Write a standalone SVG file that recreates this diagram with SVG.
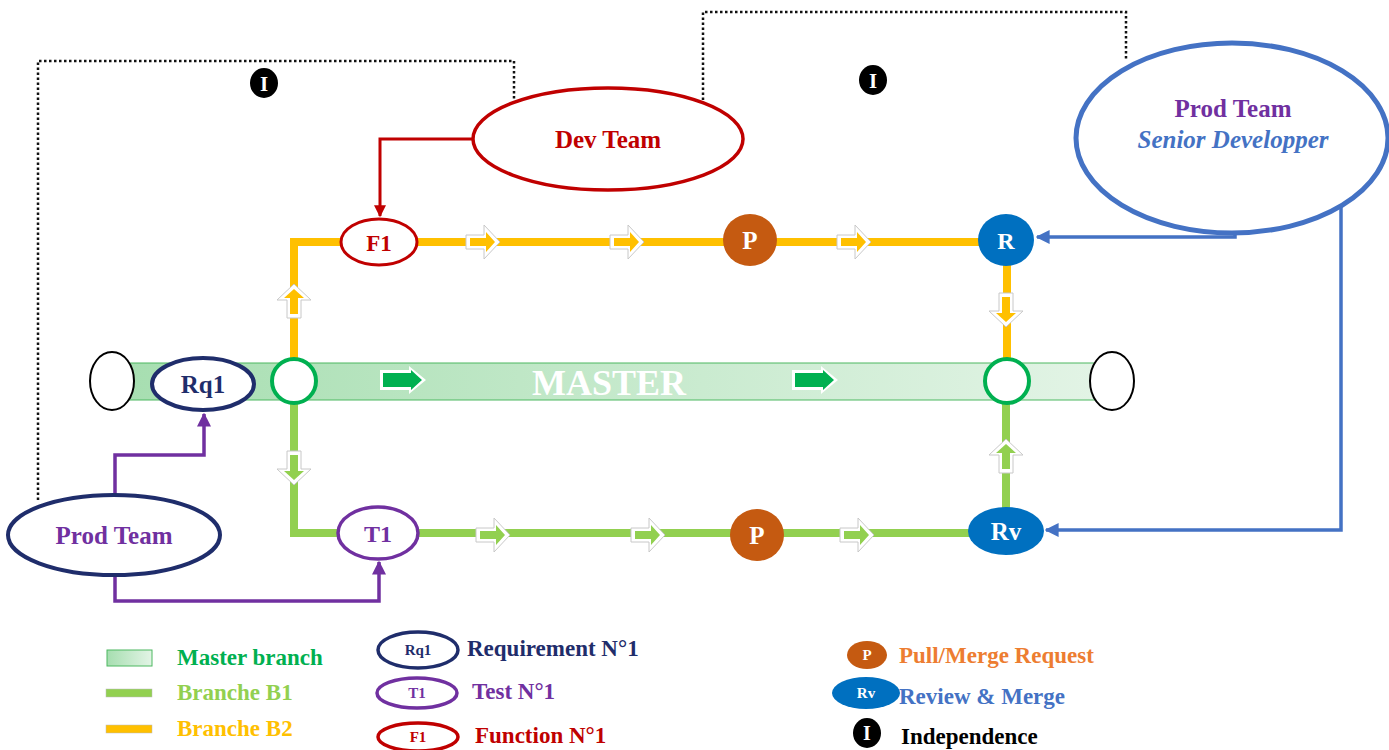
<svg xmlns="http://www.w3.org/2000/svg" width="1389" height="750" viewBox="0 0 1389 750">
<defs>
<style>
text{font-family:"Liberation Serif","Times New Roman",serif;font-weight:bold;}
.dot{fill:none;stroke:#111;stroke-width:2.5;stroke-dasharray:2.5 2.5;}
.b2{fill:none;stroke:#ffc000;stroke-width:8;}
.b1{fill:none;stroke:#92d050;stroke-width:8;}
.pur{fill:none;stroke:#7030a0;stroke-width:3.5;}
.blu{fill:none;stroke:#4472c4;stroke-width:3.5;}
.red{fill:none;stroke:#c00000;stroke-width:3;}
.lg{font-size:23px;}
.sm{font-size:15px;}
</style>
<linearGradient id="mg" x1="0" y1="0" x2="1" y2="0">
<stop offset="0" stop-color="#a6deb0"/>
<stop offset="1" stop-color="#e3f4e6"/>
</linearGradient>
<g id="ba">
<path d="M-17,-7 H1 V-17 L17,0 L1,17 V7 H-17 Z" fill="#fff" stroke="#c8c8c8" stroke-width="1"/>
<path d="M-13,-4 H3 V-10 L12,0 L3,10 V4 H-13 Z"/>
</g>
<g id="ma">
<path d="M-23,-10 H6 V-14 L23,0 L6,14 V10 H-23 Z" fill="#fff"/>
<path d="M-20,-7 H8 V-10 L19,0 L8,10 V7 H-20 Z" fill="#00b050"/>
</g>
<marker id="ap" viewBox="0 0 10 10" refX="9" refY="5" markerWidth="4" markerHeight="4" orient="auto-start-reverse"><path d="M0,0 L10,5 L0,10 Z" fill="#7030a0"/></marker>
<marker id="ab" viewBox="0 0 10 10" refX="9" refY="5" markerWidth="4" markerHeight="4" orient="auto-start-reverse"><path d="M0,0 L10,5 L0,10 Z" fill="#4472c4"/></marker>
<marker id="ar" viewBox="0 0 10 10" refX="9" refY="5" markerWidth="4" markerHeight="4" orient="auto-start-reverse"><path d="M0,0 L10,5 L0,10 Z" fill="#c00000"/></marker>
</defs>
<rect width="1389" height="750" fill="#fff"/>

<g id="connectors">
<path class="dot" d="M38,500 V61 H514 V100"/>
<path class="dot" d="M703,100 V12 H1126 V60"/>
<path class="b2" d="M294,358 V242 H1007 V358"/>
<path class="b1" d="M294,404 V533 H1006 V404"/>
<path class="red" d="M474,139 H380 V216" marker-end="url(#ar)"/>
<path class="blu" d="M1235,208 V237 H1037" marker-end="url(#ab)"/>
<path class="blu" d="M1341,180 V530 H1046" marker-end="url(#ab)"/>
<path class="pur" d="M115,495 V455 H204 V414" marker-end="url(#ap)"/>
<path class="pur" d="M115,575 V601 H379 V562" marker-end="url(#ap)"/>
<use href="#ba" x="483" y="242" fill="#ffc000"/>
<use href="#ba" x="627" y="242" fill="#ffc000"/>
<use href="#ba" x="854" y="242" fill="#ffc000"/>
<use href="#ba" transform="translate(294,301) rotate(-90)" fill="#ffc000"/>
<use href="#ba" transform="translate(1006,310) rotate(90)" fill="#ffc000"/>
<use href="#ba" x="493" y="535" fill="#92d050"/>
<use href="#ba" x="648" y="535" fill="#92d050"/>
<use href="#ba" x="857" y="535" fill="#92d050"/>
<use href="#ba" transform="translate(294,468) rotate(90)" fill="#92d050"/>
<use href="#ba" transform="translate(1006,456) rotate(-90)" fill="#92d050"/>
</g>

<g id="master">
<rect x="112" y="363" width="998" height="37" fill="url(#mg)" stroke="#4cb860" stroke-width="1"/>
<use href="#ma" x="403" y="380"/>
<use href="#ma" x="815" y="380"/>
<text x="609" y="395" font-size="36" fill="#fff" text-anchor="middle">MASTER</text>
</g>
<g id="end-left"><ellipse cx="112" cy="381" rx="22" ry="29" fill="#fff" stroke="#000" stroke-width="2"/></g>
<g id="end-right"><ellipse cx="1112" cy="381" rx="22" ry="29" fill="#fff" stroke="#000" stroke-width="2"/></g>
<g id="rq1"><ellipse cx="203" cy="384" rx="51" ry="26" fill="#fff" stroke="#1f2d6b" stroke-width="4"/><text x="203" y="393" font-size="25" fill="#1f2d6b" text-anchor="middle">Rq1</text></g>
<g id="split"><circle cx="294" cy="381" r="22" fill="#fff" stroke="#00b050" stroke-width="4"/></g>
<g id="merge"><circle cx="1007" cy="381" r="22" fill="#fff" stroke="#00b050" stroke-width="4"/></g>

<g id="f1"><ellipse cx="379" cy="242" rx="38" ry="23" fill="#fff" stroke="#c00000" stroke-width="3"/><text x="379" y="251" font-size="23" fill="#c00000" text-anchor="middle">F1</text></g>
<g id="t1"><ellipse cx="378" cy="533" rx="40" ry="26" fill="#fff" stroke="#7030a0" stroke-width="3.5"/><text x="378" y="542" font-size="24" fill="#7030a0" text-anchor="middle">T1</text></g>
<g id="p-top"><ellipse cx="750" cy="240" rx="27" ry="26" fill="#c55a11"/><text x="750" y="249" font-size="25" fill="#fff" text-anchor="middle">P</text></g>
<g id="p-bottom"><ellipse cx="757" cy="535" rx="27" ry="26" fill="#c55a11"/><text x="757" y="544" font-size="25" fill="#fff" text-anchor="middle">P</text></g>
<g id="r"><ellipse cx="1006" cy="240" rx="28" ry="26" fill="#0070c0"/><text x="1006" y="249" font-size="24" fill="#fff" text-anchor="middle">R</text></g>
<g id="rv"><ellipse cx="1006" cy="531" rx="38" ry="24" fill="#0070c0"/><text x="1006" y="540" font-size="25" fill="#fff" text-anchor="middle">Rv</text></g>

<g id="dev-team"><ellipse cx="608" cy="139" rx="135" ry="51" fill="#fff" stroke="#c00000" stroke-width="3.5"/><text x="608" y="148" font-size="25" fill="#c00000" text-anchor="middle">Dev Team</text></g>
<g id="prod-senior"><ellipse cx="1232" cy="138" rx="156" ry="95" fill="#fff" stroke="#4472c4" stroke-width="5"/><text x="1233" y="117" font-size="25" fill="#7030a0" text-anchor="middle">Prod Team</text><text x="1233" y="148" font-size="25" font-style="italic" fill="#4472c4" text-anchor="middle">Senior Developper</text></g>
<g id="prod-team"><ellipse cx="114" cy="535" rx="106" ry="40" fill="#fff" stroke="#1f2d6b" stroke-width="4"/><text x="114" y="544" font-size="25" fill="#7030a0" text-anchor="middle">Prod Team</text></g>
<g id="indep-1"><ellipse cx="264" cy="83" rx="14" ry="15" fill="#000"/><text x="264" y="91" font-size="21" fill="#fff" text-anchor="middle">I</text></g>
<g id="indep-2"><ellipse cx="873" cy="80" rx="14" ry="15" fill="#000"/><text x="873" y="88" font-size="21" fill="#fff" text-anchor="middle">I</text></g>

<g id="legend">
<rect x="107" y="650" width="45" height="16" fill="url(#mg)" stroke="#4cb860" stroke-width="1"/>
<text class="lg" x="177" y="665" fill="#00b050">Master branch</text>
<rect x="106" y="689" width="46" height="8" fill="#92d050" stroke="#bbb" stroke-width="0.5"/>
<text class="lg" x="177" y="700" fill="#92d050">Branche B1</text>
<rect x="106" y="725" width="46" height="8" fill="#ffc000" stroke="#bbb" stroke-width="0.5"/>
<text class="lg" x="177" y="736" fill="#ffc000">Branche B2</text>
<ellipse cx="418" cy="650" rx="40" ry="18" fill="#fff" stroke="#1f2d6b" stroke-width="3.5"/>
<text class="sm" x="418" y="655" fill="#1f2d6b" text-anchor="middle">Rq1</text>
<text class="lg" x="467" y="656" fill="#1f2d6b">Requirement N°1</text>
<ellipse cx="417" cy="693" rx="40" ry="15" fill="#fff" stroke="#7030a0" stroke-width="3.5"/>
<text class="sm" x="417" y="698" fill="#7030a0" text-anchor="middle">T1</text>
<text class="lg" x="472" y="699" fill="#7030a0">Test N°1</text>
<ellipse cx="418" cy="737" rx="40" ry="14" fill="#fff" stroke="#c00000" stroke-width="3.5"/>
<text class="sm" x="418" y="742" fill="#c00000" text-anchor="middle">F1</text>
<text class="lg" x="475" y="743" fill="#c00000">Function N°1</text>
<ellipse cx="867" cy="655" rx="20" ry="14" fill="#c55a11"/>
<text class="sm" x="867" y="660" fill="#fff" text-anchor="middle">P</text>
<text class="lg" x="899" y="663" fill="#ed7d31">Pull/Merge Request</text>
<ellipse cx="866" cy="693" rx="34" ry="16" fill="#0070c0"/>
<text class="sm" x="866" y="698" fill="#fff" text-anchor="middle">Rv</text>
<text class="lg" x="899" y="704" fill="#4472c4">Review &amp; Merge</text>
<ellipse cx="867" cy="733" rx="14" ry="15" fill="#000"/>
<text x="867" y="740" font-size="20" fill="#fff" text-anchor="middle">I</text>
<text class="lg" x="901" y="744" fill="#000">Independence</text>
</g>
</svg>
